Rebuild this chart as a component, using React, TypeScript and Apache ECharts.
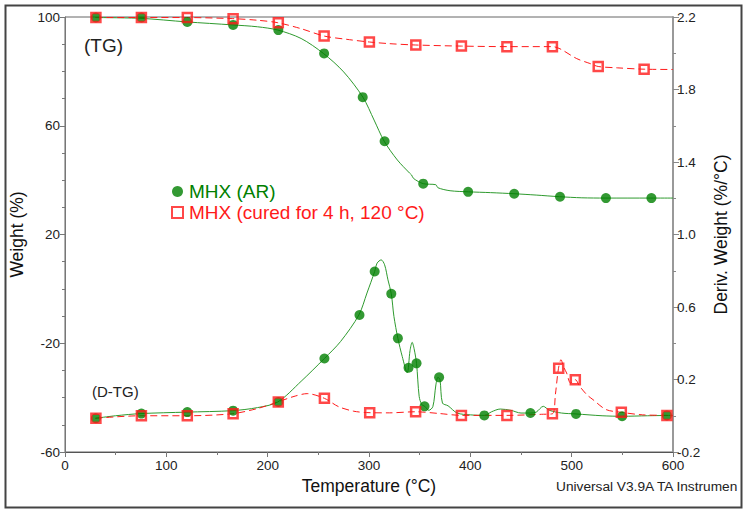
import React, { useEffect, useRef } from "react";
import * as echarts from "echarts";

// ---- Data (temperature °C, value) ----
// MHX (AR) – TG curve (Weight %)
const arTgCurve: [number, number][] = [
  [30, 99.8], [75, 99.5], [120, 98.2], [165, 97.1], [190, 96.4], [210, 95.2],
  [233, 92.1], [255, 86.6], [275, 79.8], [294, 70.5], [305, 62.1], [315, 54.3],
  [328, 47.4], [340, 42.6], [342, 41.9], [344, 40.6], [353.5, 38.7], [366, 38.3],
  [368, 37.2], [380, 36.1], [398, 35.7], [420, 35.4], [443, 35.0], [465, 34.5],
  [488, 33.9], [510, 33.5], [533, 33.4], [578, 33.4], [600, 33.4],
];
const arTgMarkers: [number, number][] = [
  [30.5, 99.8], [75.4, 99.8], [120.7, 98.2], [165.9, 97.1], [210.5, 95.2],
  [255.7, 86.6], [293.8, 70.5], [315.4, 54.3], [353.5, 38.7], [397.8, 35.7],
  [443.3, 35.0], [488.5, 33.9], [533.8, 33.4], [578.7, 33.4],
];
// MHX (AR) – DTG curve (Deriv. weight %/°C)
const arDtgCurve: [number, number][] = [
  [30, -0.014], [50, 0.0], [75, 0.012], [120, 0.02], [165, 0.028], [190, 0.045],
  [210, 0.076], [233, 0.19], [256, 0.316], [272, 0.41], [290, 0.556], [298, 0.677],
  [305.6, 0.796], [308, 0.842], [312, 0.86], [315.4, 0.833], [318.7, 0.75],
  [322, 0.673], [324.6, 0.548], [328.5, 0.427], [332.8, 0.327], [337.7, 0.236],
  [340.5, 0.36], [342.6, 0.405], [344.5, 0.37], [346.9, 0.289], [349.5, 0.107],
  [352, 0.062], [355, 0.052], [359, 0.03], [363, 0.05], [366, 0.17], [368, 0.212],
  [370, 0.2], [372.5, 0.07], [378, 0.055], [387, 0.015], [400, 0.005], [414, 0.002],
  [421, 0.022], [429.5, 0.037], [440, 0.03], [450, 0.015], [459.3, 0.015],
  [465, 0.02], [472, 0.052], [478, 0.03], [490, 0.015], [504.3, 0.01], [530, 0.0],
  [549.8, -0.003], [575, 0.0], [600, 0.002],
];
const arDtgMarkers: [number, number][] = [
  [30.5, -0.014], [75.4, 0.012], [120.7, 0.02], [165.9, 0.028], [210.5, 0.076],
  [256, 0.316], [290.6, 0.556], [305.6, 0.796], [322, 0.673], [328.5, 0.427],
  [339, 0.265], [346.9, 0.289], [354.8, 0.052], [369.2, 0.212], [413.8, 0.002],
  [459.3, 0.015], [504.3, 0.01], [549.8, -0.003], [594, 0.002],
];
// MHX (cured for 4 h, 120 °C) – TG curve
const curedTgCurve: [number, number][] = [
  [30, 99.8], [75, 99.8], [120, 99.8], [165, 99.4], [190, 98.8], [210, 97.9],
  [233, 95.7], [255.7, 93.0], [277.7, 91.8], [300.4, 90.8], [320, 90.2],
  [346.2, 89.7], [391.2, 89.3], [436.1, 89.1], [481, 89.1], [488.5, 88.3],
  [505, 84.7], [518, 82.9], [526.2, 81.8], [545, 81.3], [571.5, 80.8], [600, 80.7],
];
const curedTgMarkers: [number, number][] = [
  [30.5, 99.8], [75.4, 99.8], [120.7, 99.8], [165.9, 99.4], [210.5, 97.9],
  [255.7, 93.0], [300.4, 90.8], [346.2, 89.7], [391.2, 89.3], [436.1, 89.1],
  [481.0, 89.1], [526.2, 81.8], [571.5, 80.8],
];
// MHX (cured for 4 h, 120 °C) – DTG curve
const curedDtgCurve: [number, number][] = [
  [30, -0.014], [75, 0.0], [120, 0.0], [165, 0.011], [190, 0.04], [210, 0.076],
  [225, 0.105], [239, 0.122], [256, 0.096], [270, 0.05], [285, 0.025], [300, 0.017],
  [320, 0.016], [346, 0.022], [370, 0.012], [391, 0.002], [436, 0.002], [470, 0.008],
  [481, 0.011], [484, 0.12], [487, 0.262], [489.5, 0.309], [492, 0.27], [495, 0.236],
  [499, 0.18], [503.6, 0.199], [508, 0.162], [515, 0.116], [521, 0.089], [534, 0.034],
  [549, 0.019], [570, 0.005], [594, 0.002], [600, 0.0],
];
const curedDtgMarkers: [number, number][] = [
  [30.5, -0.014], [75.4, 0.0], [120.7, 0.0], [165.9, 0.011], [210.5, 0.076],
  [256, 0.096], [300.7, 0.017], [346, 0.022], [391.2, 0.002], [436.1, 0.002],
  [481, 0.011], [487.2, 0.262], [503.6, 0.199], [549, 0.019], [594, 0.002],
];

const seriesNames = ["MHX (AR)", "MHX (cured for 4 h, 120 °C)"];
const axisTitles = { x: "Temperature (°C)", left: "Weight (%)", right: "Deriv. Weight (%/°C)" };
const notes = { tg: "(TG)", dtg: "(D-TG)", footer: "Universal V3.9A TA Instrumen" };

const GREEN_LINE = "#2e9a2e";
const GREEN_DOT = "#007f00";
const RED = "#ff1a1a";
const FONT = "Liberation Sans, Arial, sans-serif";

export default function App() {
  const ref = useRef<HTMLDivElement>(null);
  useEffect(() => {
    if (!ref.current) return;
    const chart = echarts.init(ref.current, undefined, { renderer: "svg" });
    const labelStyle = { color: "#222", fontSize: 13.5, fontFamily: FONT };
    const nameStyle = { fontSize: 17.5, color: "#111", fontFamily: FONT };
    chart.setOption({
      animation: false,
      backgroundColor: "#fff",
      textStyle: { fontFamily: FONT },
      grid: {
        left: 63, right: 70, top: 17, bottom: 59,
        show: true, borderColor: "#666", borderWidth: 1,
      },
      legend: {
        orient: "vertical",
        left: 171, top: 181, padding: 0,
        itemWidth: 11, itemHeight: 11, itemGap: 0,
        textStyle: { fontSize: 19, lineHeight: 21, fontFamily: FONT, padding: [0, 0, 0, 1] },
        data: [
          { name: seriesNames[0], textStyle: { color: GREEN_DOT } },
          { name: seriesNames[1], textStyle: { color: RED } },
        ],
        selectedMode: false,
      },
      xAxis: {
        type: "value", min: 0, max: 600, interval: 100,
        name: axisTitles.x, nameLocation: "middle", nameGap: 25,
        nameTextStyle: nameStyle,
        axisLine: { show: true, onZero: false, lineStyle: { color: "#555", width: 1 } },
        splitLine: { show: false },
        axisTick: { show: true, length: 5, lineStyle: { color: "#777" } },
        minorTick: { show: true, splitNumber: 2, length: 3, lineStyle: { color: "#777" } },
        axisLabel: { ...labelStyle, margin: 6 },
      },
      yAxis: [
        {
          type: "value", min: -60, max: 100, interval: 40, position: "left",
          name: axisTitles.left, nameLocation: "middle", nameGap: 39,
          nameTextStyle: nameStyle,
          axisLine: { show: true, onZero: false, lineStyle: { color: "#777", width: 1 } },
          splitLine: { show: false },
          axisTick: { show: true, length: 5, lineStyle: { color: "#777" } },
          minorTick: { show: true, splitNumber: 4, length: 3, lineStyle: { color: "#777" } },
          axisLabel: { ...labelStyle, margin: 5 },
        },
        {
          type: "value", min: -0.2, max: 2.2, interval: 0.4, position: "right",
          name: axisTitles.right, nameLocation: "middle", nameGap: 39,
          nameTextStyle: nameStyle,
          axisLine: { show: true, onZero: false, lineStyle: { color: "#999", width: 2 } },
          splitLine: { show: false },
          axisTick: { show: true, length: 6, lineStyle: { color: "#888" } },
          minorTick: { show: true, splitNumber: 2, length: 3, lineStyle: { color: "#888" } },
          axisLabel: { ...labelStyle, margin: 4, formatter: (v: number) => v.toFixed(1) },
        },
      ],
      series: [
        {
          name: "AR TG", type: "line", yAxisIndex: 0, data: arTgCurve, smooth: 0.3,
          showSymbol: false, lineStyle: { color: GREEN_LINE, width: 1 }, z: 2,
        },
        {
          name: "AR DTG", type: "line", yAxisIndex: 1, data: arDtgCurve, smooth: 0.3,
          showSymbol: false, lineStyle: { color: GREEN_LINE, width: 1 }, z: 2,
        },
        {
          name: "Cured TG", type: "line", yAxisIndex: 0, data: curedTgCurve, smooth: 0.3,
          showSymbol: false, lineStyle: { color: RED, width: 1, type: [7, 4] }, z: 3,
        },
        {
          name: "Cured DTG", type: "line", yAxisIndex: 1, data: curedDtgCurve, smooth: 0.3,
          showSymbol: false, lineStyle: { color: RED, width: 1, type: [7, 4] }, z: 3,
        },
        {
          name: seriesNames[0], type: "scatter", yAxisIndex: 0, data: arTgMarkers,
          symbol: "circle", symbolSize: 10, itemStyle: { color: GREEN_DOT }, z: 4,
        },
        {
          name: seriesNames[0], type: "scatter", yAxisIndex: 1, data: arDtgMarkers,
          symbol: "circle", symbolSize: 10, itemStyle: { color: GREEN_DOT }, z: 4,
        },
        {
          name: seriesNames[1], type: "scatter", yAxisIndex: 0, data: curedTgMarkers,
          symbol: "rect", symbolSize: 9,
          itemStyle: { color: "rgba(255,255,255,0)", borderColor: RED, borderWidth: 2.5 }, z: 5,
        },
        {
          name: seriesNames[1], type: "scatter", yAxisIndex: 1, data: curedDtgMarkers,
          symbol: "rect", symbolSize: 9,
          itemStyle: { color: "rgba(255,255,255,0)", borderColor: RED, borderWidth: 2.5 }, z: 5,
        },
      ],
      graphic: [
        {
          type: "rect", left: 3, top: 3, z: -1, silent: true,
          shape: { width: 736, height: 502 },
          style: { fill: "none", stroke: "#444", lineWidth: 2 },
        },
        {
          type: "text", left: 84, top: 36,
          style: { text: notes.tg, fontSize: 19, fill: "#222", fontFamily: FONT },
        },
        {
          type: "text", left: 92, top: 384,
          style: { text: notes.dtg, fontSize: 15, fill: "#222", fontFamily: FONT },
        },
        {
          type: "text", left: 556, top: 479,
          style: { text: notes.footer, fontSize: 13.7, fill: "#222", fontFamily: FONT },
        },
      ],
    });
    return () => chart.dispose();
  }, []);
  return (
    <div
      ref={ref}
      style={{ position: "fixed", left: 0, top: 0, width: 743, height: 511, background: "#fff" }}
    />
  );
}
